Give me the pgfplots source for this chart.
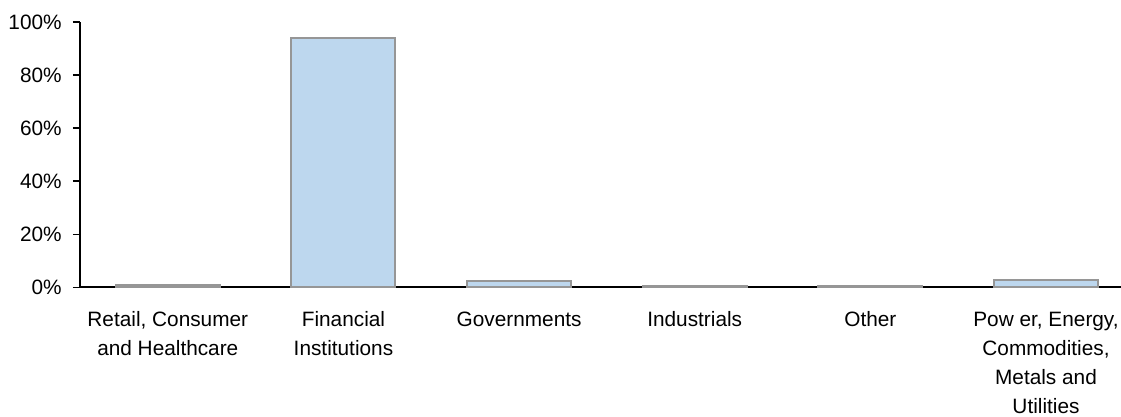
\documentclass[border=0pt]{standalone}
\usepackage{pgfplots}
\pgfplotsset{compat=1.18}
\usepackage{fontspec}
\setmainfont{Liberation Sans}
\definecolor{barfill}{HTML}{BDD7EE}
\definecolor{barline}{HTML}{969696}
\begin{document}
\fontsize{10.4}{14.5}\selectfont
\begin{tikzpicture}
\path[use as bounding box] (-40pt,-64.75pt) rectangle (520.5pt,143.75pt);
\begin{axis}[
  scale only axis,
  width=520.5pt, height=132.75pt,
  xmin=-0.5, xmax=5.427,
  ymin=0, ymax=100,
  axis lines=left,
  axis line style={black, line width=1pt, -},
  ytick={0,20,40,60,80,100},
  yticklabels={0\%,20\%,40\%,60\%,80\%,100\%},
  ytick style={black, line width=0.8pt},
  tick align=outside,
  major tick length=3.5pt,
  yticklabel style={font=\fontsize{10.4}{14.5}\selectfont, xshift=-2pt},
  xtick={0,1,2,3,4,5},
  xticklabels={{Retail, Consumer\\and Healthcare},{Financial\\Institutions},{Governments},{Industrials},{Other},{Pow er, Energy,\\Commodities,\\Metals and\\Utilities}},
  xticklabel style={align=center, font=\fontsize{10.4}{14.5}\selectfont, yshift=-5pt},
  x tick style={draw=none},
  ybar, bar width=52pt,
  clip=false,
]
\addplot[fill=barfill, draw=barline, line width=1pt] coordinates {(0,0.8) (1,94.1) (2,2.4) (3,0.7) (4,0.7) (5,2.9)};
\end{axis}
\end{tikzpicture}
\end{document}
